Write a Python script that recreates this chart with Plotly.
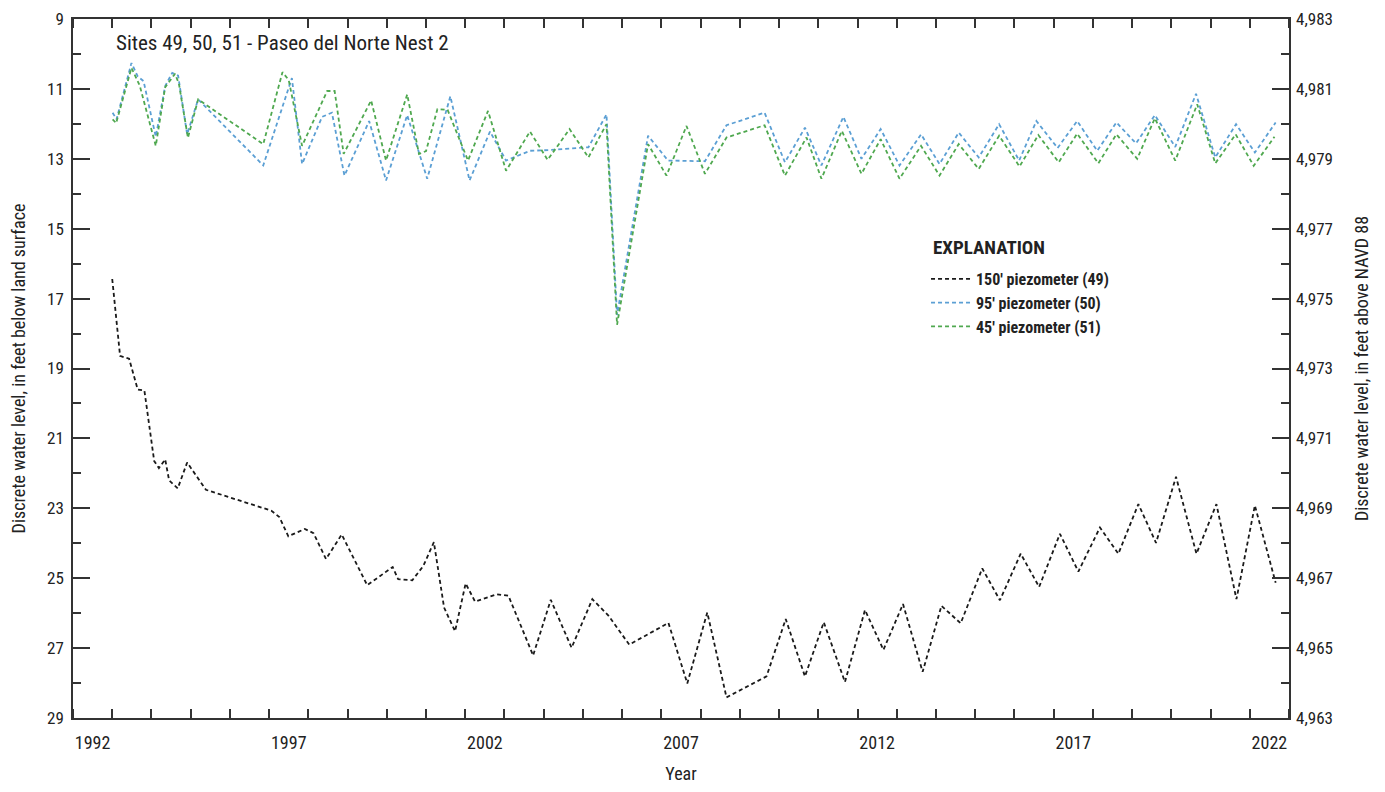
import plotly.graph_objects as go

# ---- data (decimal year, depth below land surface in feet) ----
yr_150 = [1993.0, 1993.2, 1993.43, 1993.65, 1993.82, 1994.07, 1994.19, 1994.35, 1994.45, 1994.67,
          1994.91, 1995.39, 1997.06, 1997.26, 1997.49, 1997.91, 1998.13, 1998.45, 1998.85, 1999.5,
          2000.15, 2000.29, 2000.65, 2000.93, 2001.2, 2001.46, 2001.74, 2002.01, 2002.25, 2002.8,
          2003.1, 2003.73, 2004.18, 2004.71, 2005.24, 2005.65, 2006.18, 2007.18, 2007.66, 2008.17,
          2008.66, 2009.68, 2010.17, 2010.66, 2011.14, 2011.68, 2012.19, 2012.66, 2013.16, 2013.66,
          2014.14, 2014.63, 2015.18, 2015.63, 2016.16, 2016.63, 2017.16, 2017.63, 2018.18, 2018.65,
          2019.16, 2019.61, 2020.12, 2020.64, 2021.15, 2021.66, 2022.13, 2022.66]
wl_150 = [16.44, 18.64, 18.72, 19.60, 19.63, 21.65, 21.85, 21.6, 22.2, 22.43,
          21.69, 22.47, 23.07, 23.25, 23.80, 23.59, 23.71, 24.45, 23.75, 25.2,
          24.68, 25.03, 25.06, 24.65, 23.97, 25.84, 26.52, 25.15, 25.67, 25.46,
          25.5, 27.21, 25.62, 26.99, 25.60, 26.07, 26.90, 26.28, 28.01, 25.98,
          28.41, 27.81, 26.17, 27.81, 26.26, 27.97, 25.91, 27.05, 25.74, 27.68,
          25.79, 26.29, 24.72, 25.63, 24.30, 25.25, 23.73, 24.81, 23.55, 24.30,
          22.88, 23.99, 22.10, 24.30, 22.88, 25.60, 22.92, 25.13]

yr_95 = [1993.01, 1993.11, 1993.49, 1993.65, 1993.8, 1994.11, 1994.35, 1994.53, 1994.68, 1994.91,
         1995.19, 1996.85, 1997.58, 1997.84, 1998.35, 1998.6, 1998.92, 1999.55, 1999.98, 2000.52,
         2001.03, 2001.62, 2002.11, 2002.63, 2003.04, 2003.65, 2004.16, 2005.14, 2005.6, 2005.87,
         2006.66, 2007.17, 2008.11, 2008.66, 2009.63, 2010.15, 2010.66, 2011.08, 2011.64, 2012.1,
         2012.59, 2013.07, 2013.62, 2014.09, 2014.58, 2015.09, 2015.61, 2016.12, 2016.56, 2017.1,
         2017.6, 2018.11, 2018.6, 2019.1, 2019.58, 2020.1, 2020.63, 2021.12, 2021.65, 2022.13,
         2022.66]
wl_95 = [11.68, 11.87, 10.26, 10.64, 10.78, 12.37, 10.92, 10.54, 10.62, 12.3,
         11.3, 13.19, 10.69, 13.15, 11.8, 11.68, 13.48, 11.92, 13.62, 11.75,
         13.57, 11.21, 13.62, 12.22, 13.05, 12.77, 12.75, 12.67, 11.73, 17.47,
         12.34, 13.05, 13.07, 12.04, 11.68, 13.10, 12.11, 13.19, 11.80, 13.0,
         12.15, 13.19, 12.3, 13.15, 12.25, 12.96, 12.01, 13.05, 11.92, 12.69,
         11.92, 12.77, 11.96, 12.56, 11.75, 12.66, 11.14, 12.96, 12.01, 12.82,
         11.96]

yr_45 = [1993.01, 1993.1, 1993.49, 1993.7, 1994.11, 1994.35, 1994.6, 1994.7, 1994.93, 1995.19,
         1996.85, 1997.34, 1997.5, 1997.84, 1998.48, 1998.67, 1998.9, 1999.6, 1999.98, 2000.52,
         2000.82, 2001.0, 2001.29, 2001.55, 2002.07, 2002.58, 2003.04, 2003.65, 2004.1, 2004.66,
         2005.14, 2005.6, 2005.87, 2006.66, 2007.13, 2007.64, 2008.11, 2008.66, 2009.63, 2010.15,
         2010.7, 2011.08, 2011.6, 2012.1, 2012.59, 2013.07, 2013.62, 2014.09, 2014.58, 2015.09,
         2015.61, 2016.13, 2016.61, 2017.13, 2017.6, 2018.14, 2018.6, 2019.13, 2019.58, 2020.1,
         2020.66, 2021.12, 2021.64, 2022.1, 2022.63]
wl_45 = [11.87, 11.98, 10.4, 10.9, 12.63, 10.95, 10.57, 10.85, 12.4, 11.3,
         12.58, 10.52, 10.75, 12.63, 11.06, 11.06, 12.86, 11.33, 13.05, 11.16,
         12.86, 12.78, 11.58, 11.6, 13.05, 11.63, 13.34, 12.22, 13.03, 12.15,
         12.96, 12.01, 17.75, 12.58, 13.48, 12.06, 13.43, 12.39, 12.04, 13.48,
         12.39, 13.57, 12.2, 13.43, 12.44, 13.57, 12.63, 13.48, 12.58, 13.29,
         12.34, 13.22, 12.32, 13.1, 12.28, 13.13, 12.3, 13.0, 11.84, 13.05,
         11.44, 13.13, 12.30, 13.2, 12.37]

series_names = ["150\u2032 piezometer (49)", "95\u2032 piezometer (50)", "45\u2032 piezometer (51)"]
series_colors = ["#1a1a1a", "#5b9fd4", "#4fa84f"]

year_labels = [1992, 1997, 2002, 2007, 2012, 2017, 2022]
left_ticks = [9, 11, 13, 15, 17, 19, 21, 23, 25, 27, 29]
right_ticks = [4983, 4981, 4979, 4977, 4975, 4973, 4971, 4969, 4967, 4965, 4963]
LSD_OFFSET = 4992  # altitude of land surface used to convert depth -> altitude

FONT = "Liberation Sans Narrow, Roboto Condensed, Arial Narrow, Liberation Sans, sans-serif"
AX = "#333333"
TXT = "#222222"

fig = go.Figure()
for xs, ys, name, col in zip([yr_150, yr_95, yr_45], [wl_150, wl_95, wl_45], series_names, series_colors):
    fig.add_trace(go.Scatter(x=xs, y=ys, mode="lines", name=name,
                             line=dict(color=col, width=1.8, dash="4px,3px")))

# page body has an 8px margin, so the figure is sized/margined to compensate
fig.update_layout(
    width=1369, height=776,
    margin=dict(l=65, r=88, t=11, b=66, autoexpand=False),
    plot_bgcolor="white", paper_bgcolor="white",
    font=dict(family=FONT, size=17, color=TXT),
    showlegend=True,
    legend=dict(
        x=0.7015, y=0.6524, xanchor="left", yanchor="top",
        font=dict(size=16, family=FONT, color=TXT, weight="bold"),
        bgcolor="rgba(0,0,0,0)", itemwidth=40, tracegroupgap=4,
    ),
    xaxis=dict(
        range=[1992, 2023], showgrid=False, zeroline=False, automargin=False,
        showline=True, linecolor=AX, linewidth=1.5, mirror="allticks",
        tickmode="array", tickvals=[y + 0.5 for y in year_labels],
        ticktext=[str(y) for y in year_labels], ticks="", ticklabelstandoff=8,
        ticklabeloverflow="allow", tickfont=dict(size=18),
        minor=dict(tick0=1992, dtick=1, ticks="inside", ticklen=9, tickcolor=AX, tickwidth=1.5),
        title=dict(text="Year", standoff=24, font=dict(size=18)),
    ),
    yaxis=dict(
        range=[29, 9], showgrid=False, zeroline=False, automargin=False,
        showline=True, linecolor=AX, linewidth=1.5, mirror=True,
        tickmode="array", tickvals=left_ticks, ticktext=[str(v) for v in left_ticks],
        ticks="inside", ticklen=17, tickcolor=AX, tickwidth=1.5, ticklabelstandoff=4,
        ticklabeloverflow="allow", tickfont=dict(size=17),
        minor=dict(tick0=10, dtick=2, ticks="inside", ticklen=8, tickcolor=AX, tickwidth=1.5),
        title=dict(text="Discrete water level, in feet below land surface", standoff=18,
                   font=dict(size=18)),
    ),
    yaxis2=dict(
        range=[LSD_OFFSET - 29, LSD_OFFSET - 9], overlaying="y", side="right", anchor="x",
        showgrid=False, zeroline=False, showline=False, automargin=False,
        tickmode="array", tickvals=right_ticks, ticktext=[f"{v:,}" for v in right_ticks],
        ticks="inside", ticklen=17, tickcolor=AX, tickwidth=1.5, ticklabelstandoff=6,
        ticklabeloverflow="allow", tickfont=dict(size=17),
        minor=dict(tick0=4964, dtick=2, ticks="inside", ticklen=8, tickcolor=AX, tickwidth=1.5),
        title=dict(text="Discrete water level, in feet above NAVD 88", standoff=23,
                   font=dict(size=18)),
    ),
    annotations=[
        dict(text="Sites 49, 50, 51 - Paseo del Norte Nest 2", xref="paper", yref="paper",
             x=0.034, y=0.9863, xanchor="left", yanchor="top", showarrow=False,
             font=dict(size=21, family=FONT, color=TXT)),
        dict(text="<b>EXPLANATION</b>", xref="paper", yref="paper",
             x=0.7537, y=0.6738, xanchor="center", yanchor="middle", showarrow=False,
             font=dict(size=19, family=FONT, color=TXT)),
    ],
)
# invisible trace to activate the right-hand axis
fig.add_trace(go.Scatter(x=[], y=[], yaxis="y2", showlegend=False, hoverinfo="skip"))

fig.write_html("out.html")
